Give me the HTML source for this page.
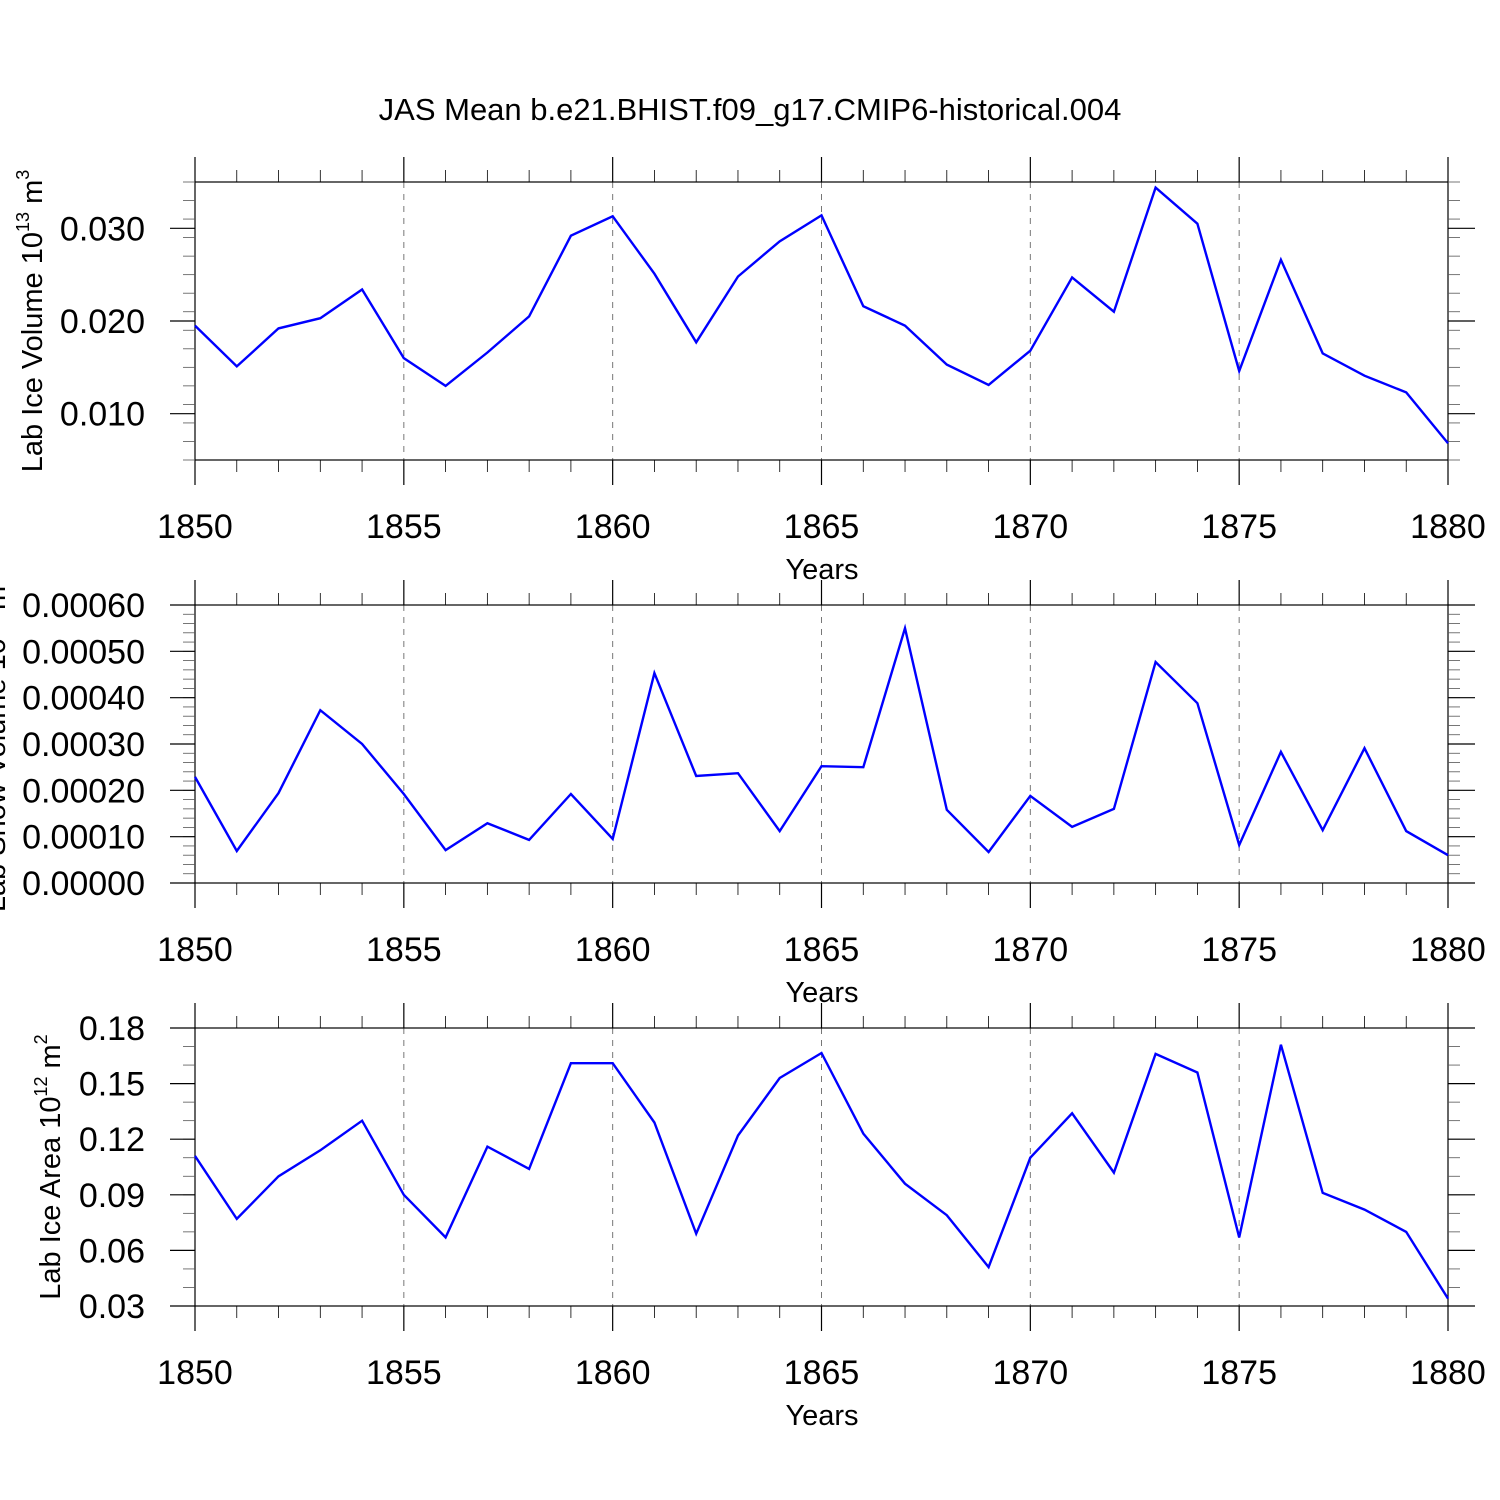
<!DOCTYPE html>
<html><head><meta charset="utf-8"><style>
html,body{margin:0;padding:0;background:#fff;}
svg{display:block;font-family:"Liberation Sans",Arial,sans-serif;}
</style></head><body>
<svg id="chart" width="1500" height="1500" viewBox="0 0 1500 1500">
<text x="750" y="120" font-size="31" text-anchor="middle">JAS Mean b.e21.BHIST.f09_g17.CMIP6-historical.004</text>
</svg>
<script>
const years = [];
for (let y = 1850; y <= 1880; y++) years.push(y);
const xTickLabels = ["1850","1855","1860","1865","1870","1875","1880"];
const iceVolume = [0.0195,0.0151,0.0192,0.0203,0.0234,0.0160,0.0130,0.0166,0.0205,0.0292,0.0313,0.0251,0.0177,0.0248,0.0286,0.0314,0.0216,0.0195,0.0153,0.0131,0.0168,0.0247,0.0210,0.0344,0.0305,0.0146,0.0266,0.0165,0.0141,0.0123,0.0068];
const snowVolume = [0.000229,0.000069,0.000194,0.000373,0.000300,0.000192,0.000071,0.000129,0.000093,0.000192,0.000095,0.000453,0.000231,0.000237,0.000112,0.000252,0.000250,0.000550,0.000158,0.000067,0.000188,0.000121,0.000160,0.000477,0.000388,0.000082,0.000283,0.000114,0.000291,0.000112,0.000060];
const iceArea = [0.111,0.077,0.100,0.114,0.130,0.090,0.067,0.116,0.104,0.161,0.161,0.129,0.069,0.122,0.153,0.1665,0.123,0.096,0.079,0.051,0.110,0.134,0.102,0.166,0.156,0.067,0.171,0.091,0.082,0.070,0.034];
const volTicks = ["0.010","0.020","0.030"];
const snowTicks = ["0.00000","0.00010","0.00020","0.00030","0.00040","0.00050","0.00060"];
const areaTicks = ["0.03","0.06","0.09","0.12","0.15","0.18"];

const NS = "http://www.w3.org/2000/svg";
const svg = document.getElementById("chart");
const X0 = 195, X1 = 1448;
function xs(yr){ return X0 + (yr - 1850) / 30 * (X1 - X0); }
function mk(tag, attrs, parent){
  const e = document.createElementNS(NS, tag);
  for (const k in attrs) e.setAttribute(k, attrs[k]);
  (parent || svg).appendChild(e);
  return e;
}
const panels = [
  {top:182, bot:460, min:0.005, max:0.035, data:iceVolume, ticks:volTicks, minorStep:0.002, label:"Lab Ice Volume 10", sup:"13", unit:" m", usup:"3", labX:42, name:"ice-volume"},
  {top:605, bot:883, min:0, max:0.0006, data:snowVolume, ticks:snowTicks, minorStep:0.00002, label:"Lab Snow Volume 10", sup:"13", unit:" m", usup:"3", labX:5, name:"snow-volume"},
  {top:1028, bot:1306, min:0.03, max:0.18, data:iceArea, ticks:areaTicks, minorStep:0.01, label:"Lab Ice Area 10", sup:"12", unit:" m", usup:"2", labX:60, name:"ice-area"}
];
panels.forEach(p => {
  const g = mk("g", {});
  
  
  const ys = v => p.bot - (v - p.min) / (p.max - p.min) * (p.bot - p.top);
  for (let yr = 1855; yr <= 1875; yr += 5) {
    const l = mk("line", {x1:xs(yr), x2:xs(yr), y1:p.top, y2:p.bot, stroke:"#777", "stroke-width":1, "stroke-dasharray":"6,6"}, g);
    
    
  }
  const b = mk("rect", {x:X0, y:p.top, width:X1-X0, height:p.bot-p.top, fill:"none", stroke:"#000", "stroke-width":1.2}, g);
  
  
  years.forEach(yr => {
    const major = (yr % 5 === 0), len = major ? 25 : 12;
    mk("line", {x1:xs(yr), x2:xs(yr), y1:p.top-len, y2:p.top, stroke:"#000", "stroke-width":major?1.2:0.8}, g);
    mk("line", {x1:xs(yr), x2:xs(yr), y1:p.bot, y2:p.bot+len, stroke:"#000", "stroke-width":major?1.2:0.8}, g);
  });
  xTickLabels.forEach(t => {
    const tx = mk("text", {x:xs(+t), y:p.bot+78, "font-size":34, "text-anchor":"middle"}, g);
    tx.textContent = t;
    
    
  });
  const xt = mk("text", {x:822, y:p.bot+119, "font-size":29, "text-anchor":"middle"}, g);
  xt.textContent = "Years";
  
  
  const n = Math.round((p.max - p.min) / p.minorStep);
  for (let i = 0; i <= n; i++) {
    const y = ys(p.min + i * p.minorStep);
    mk("line", {x1:X0-12, x2:X0, y1:y, y2:y, stroke:"#555", "stroke-width":0.8}, g);
    mk("line", {x1:X1, x2:X1+12, y1:y, y2:y, stroke:"#555", "stroke-width":0.8}, g);
  }
  p.ticks.forEach(t => {
    const y = ys(+t);
    mk("line", {x1:X0-25, x2:X0, y1:y, y2:y, stroke:"#000", "stroke-width":1.2}, g);
    mk("line", {x1:X1, x2:X1+27, y1:y, y2:y, stroke:"#000", "stroke-width":1.2}, g);
    const tx = mk("text", {x:145, y:y+12, "font-size":34, "text-anchor":"end"}, g);
    tx.textContent = t;
    
    
  });
  const cy = (p.top + p.bot) / 2;
  const yt = mk("text", {x:0, y:0, "font-size":29, "text-anchor":"middle", transform:`translate(${p.labX},${cy}) rotate(-90)`}, g);
  
  
  const t1 = mk("tspan", {}, yt); t1.textContent = p.label;
  const t2 = mk("tspan", {dy:-13, "font-size":18}, yt); t2.textContent = p.sup;
  const t3 = mk("tspan", {dy:13}, yt); t3.textContent = p.unit;
  const t4 = mk("tspan", {dy:-13, "font-size":18}, yt); t4.textContent = p.usup;
  const pts = p.data.map((v, i) => xs(years[i]).toFixed(1) + "," + ys(v).toFixed(1)).join(" ");
  const pl = mk("polyline", {points:pts, fill:"none", stroke:"#0000ff", "stroke-width":2.4, "stroke-linejoin":"miter"}, g);
  
  
});
</script>
</body></html>
